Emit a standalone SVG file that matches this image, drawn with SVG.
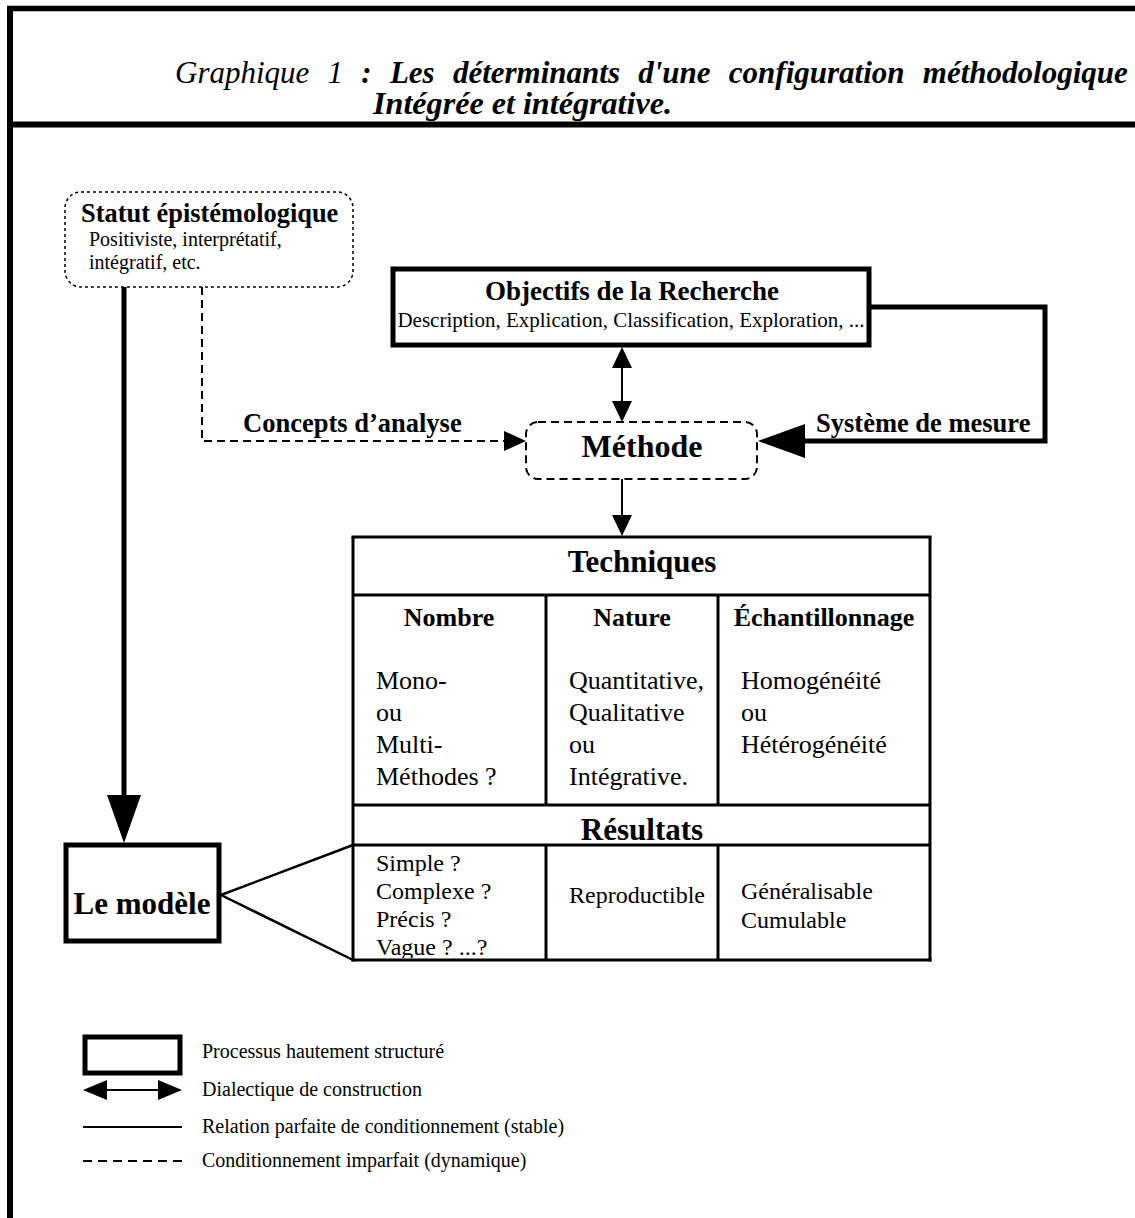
<svg xmlns="http://www.w3.org/2000/svg" width="1135" height="1218" viewBox="0 0 1135 1218">
<style>
text{font-family:"Liberation Serif","Times New Roman",serif;fill:#000}
.b{font-weight:bold}
.c{text-anchor:middle}
.thick{fill:none;stroke:#000;stroke-width:5}
.thin{fill:none;stroke:#000;stroke-width:2}
.tab{fill:none;stroke:#000;stroke-width:3}
.dash{fill:none;stroke:#000;stroke-width:2;stroke-dasharray:8 5}
.dot{fill:none;stroke:#000;stroke-width:1.5;stroke-dasharray:3 3}
.ah{fill:#000;stroke:none}
</style>
<defs>
<clipPath id="cellclip"><rect x="353" y="845" width="193" height="113"/></clipPath>
</defs>
<rect x="0" y="0" width="1135" height="1218" fill="#fff"/>
<g id="frame">
<line x1="7" y1="8.5" x2="1135" y2="8.5" stroke="#000" stroke-width="5.5"/>
<line x1="10" y1="6" x2="10" y2="1218" stroke="#000" stroke-width="6"/>
<line x1="7" y1="124.5" x2="1135" y2="124.5" stroke="#000" stroke-width="6"/>
</g>
<g id="title">
<text x="175" y="83" font-size="31" word-spacing="10.5"><tspan font-style="italic">Graphique 1</tspan><tspan class="b" font-style="italic"> : Les déterminants d'une configuration méthodologique</tspan></text>
<text x="373" y="114" font-size="31" class="b" font-style="italic" textLength="299" lengthAdjust="spacingAndGlyphs">Intégrée et intégrative.</text>
</g>
<g id="connectors">
<line x1="124" y1="287" x2="124" y2="797" class="thick"/>
<polygon class="ah" points="124,843 107,795 141,795"/>
<polyline class="dash" points="202,287 202,441 506,441"/>
<polygon class="ah" points="526,441 504,431 504,451"/>
<polyline class="thick" points="871,307 1045,307 1045,441 804,441"/>
<polygon class="ah" points="758,441 805,424 805,458"/>
<line x1="622" y1="366" x2="622" y2="402" class="thin"/>
<polygon class="ah" points="622,347 612,368 632,368"/>
<polygon class="ah" points="622,422 612,401 632,401"/>
<line x1="622" y1="479" x2="622" y2="516" class="thin"/>
<polygon class="ah" points="622,536 612,515 632,515"/>
<line x1="221" y1="895" x2="353" y2="845" stroke="#000" stroke-width="2.5"/>
<line x1="221" y1="895" x2="353" y2="960" stroke="#000" stroke-width="2.5"/>
<text x="243" y="432" font-size="26.5" class="b">Concepts d’analyse</text>
<text x="816" y="432" font-size="26.5" class="b">Système de mesure</text>
</g>
<g id="statut">
<rect x="65" y="192" width="288" height="95" rx="16" class="dot"/>
<text x="81" y="222" font-size="26.4" class="b">Statut épistémologique</text>
<text x="89" y="246" font-size="20">Positiviste, interprétatif,</text>
<text x="89" y="269" font-size="20">intégratif, etc.</text>
</g>
<g id="objectifs">
<rect x="393" y="269" width="476" height="76" class="thick"/>
<text x="632" y="300" font-size="27" class="b c">Objectifs de la Recherche</text>
<text x="631" y="327" font-size="21" class="c">Description, Explication, Classification, Exploration, ...</text>
</g>
<g id="methode">
<rect x="526" y="422" width="231" height="57" rx="12" class="dash"/>
<text x="642" y="457" font-size="32" class="b c">Méthode</text>
</g>
<g id="techniques">
<line x1="351.5" y1="537" x2="931.5" y2="537" class="tab"/>
<line x1="353" y1="537" x2="353" y2="961.5" class="tab"/>
<line x1="930" y1="537" x2="930" y2="961.5" class="tab"/>
<line x1="353" y1="595" x2="930" y2="595" class="tab"/>
<line x1="546" y1="595" x2="546" y2="805" class="tab"/>
<line x1="718" y1="595" x2="718" y2="805" class="tab"/>
<line x1="353" y1="805" x2="930" y2="805" class="tab"/>
<text x="642" y="572" font-size="31" class="b c">Techniques</text>
<text x="449" y="626" font-size="26" class="b c">Nombre</text>
<text x="632" y="626" font-size="26" class="b c">Nature</text>
<text x="824" y="626" font-size="26" class="b c">Échantillonnage</text>
<text x="376" font-size="26"><tspan x="376" y="689">Mono-</tspan><tspan x="376" y="721">ou</tspan><tspan x="376" y="753">Multi-</tspan><tspan x="376" y="785">Méthodes ?</tspan></text>
<text x="569" font-size="26"><tspan x="569" y="689">Quantitative,</tspan><tspan x="569" y="721">Qualitative</tspan><tspan x="569" y="753">ou</tspan><tspan x="569" y="785">Intégrative.</tspan></text>
<text x="741" font-size="26"><tspan x="741" y="689">Homogénéité</tspan><tspan x="741" y="721">ou</tspan><tspan x="741" y="753">Hétérogénéité</tspan></text>
</g>
<g id="resultats">
<line x1="353" y1="845" x2="930" y2="845" class="tab"/>
<line x1="546" y1="845" x2="546" y2="960" class="tab"/>
<line x1="718" y1="845" x2="718" y2="960" class="tab"/>
<line x1="351.5" y1="960" x2="931.5" y2="960" class="tab"/>
<text x="642" y="840" font-size="31" class="b c">Résultats</text>
<g clip-path="url(#cellclip)">
<text font-size="24"><tspan x="376" y="871">Simple ?</tspan><tspan x="376" y="899">Complexe ?</tspan><tspan x="376" y="927">Précis ?</tspan><tspan x="376" y="955">Vague ? ...?</tspan></text>
</g>
<text x="569" y="903" font-size="24">Reproductible</text>
<text x="741" y="899" font-size="24">Généralisable</text>
<text x="741" y="928" font-size="24">Cumulable</text>
</g>
<g id="modele">
<rect x="66" y="845" width="153" height="96" class="thick"/>
<text x="142" y="914" font-size="31" class="b c">Le modèle</text>
</g>
<g id="legend">
<rect x="85" y="1037" width="95" height="36" class="thick"/>
<text x="202" y="1058" font-size="20">Processus hautement structuré</text>
<line x1="105" y1="1090" x2="160" y2="1090" class="thin"/>
<polygon class="ah" points="83,1090 107,1080 107,1100"/>
<polygon class="ah" points="182,1090 158,1080 158,1100"/>
<text x="202" y="1096" font-size="20">Dialectique de construction</text>
<line x1="83" y1="1127" x2="182" y2="1127" class="thin"/>
<text x="202" y="1133" font-size="20">Relation parfaite de conditionnement (stable)</text>
<line x1="83" y1="1161" x2="182" y2="1161" stroke="#000" stroke-width="2" stroke-dasharray="9 6"/>
<text x="202" y="1167" font-size="20">Conditionnement imparfait (dynamique)</text>
</g>
</svg>
